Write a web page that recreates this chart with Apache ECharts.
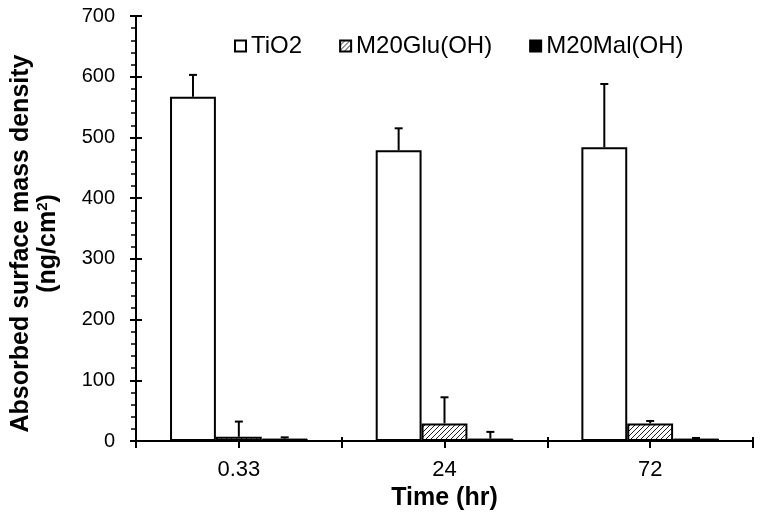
<!DOCTYPE html>
<html>
<head>
<meta charset="utf-8">
<script src="https://cdn.jsdelivr.net/npm/echarts@6/dist/echarts.min.js"></script>
<style>html,body{margin:0;padding:0;background:#fff;}#c{width:764px;height:523px;}</style>
</head>
<body>
<div id="c"></div>
<script>
const categories = ['0.33', '24', '72'];
const seriesNames = ['TiO2', 'M20Glu(OH)', 'M20Mal(OH)'];
const tio2 = [567, 479, 484];
const tio2Err = [36, 36, 104];
const glu = [7, 29, 29];
const gluErr = [25, 43, 4];
const mal = [4, 4, 4];
const malErr = [2, 11, 1];
const yTicks = [0, 100, 200, 300, 400, 500, 600, 700];

const FONT = 'Liberation Sans, Arial, sans-serif';
const BAR_FRAC = 0.223;

function hatch() {
  const s = 5, c = document.createElement('canvas');
  c.width = s; c.height = s;
  const g = c.getContext('2d');
  g.fillStyle = '#fff'; g.fillRect(0, 0, s, s);
  g.strokeStyle = '#222'; g.lineWidth = 1;
  g.beginPath();
  g.moveTo(-1, s + 1); g.lineTo(s + 1, -1);
  g.moveTo(-1, 1); g.lineTo(1, -1);
  g.moveTo(s - 1, s + 1); g.lineTo(s + 1, s - 1);
  g.stroke();
  return c;
}

const chart = echarts.init(document.getElementById('c'), null, {renderer: 'canvas'});

function errSeries(vals, errs, offset) {
  return {
    type: 'custom',
    xAxisIndex: 0, yAxisIndex: 0,
    z: 5,
    data: vals.map((v, i) => [i, v, errs[i]]),
    encode: {x: 0, y: 1},
    renderItem: function (params, api) {
      const ci = api.value(0), v = api.value(1), e = api.value(2);
      const b = api.coord([ci, v]);
      const t = api.coord([ci, v + e]);
      const band = api.size([1, 0])[0];
      const x = b[0] + offset * band * BAR_FRAC;
      const st = {stroke: '#000', lineWidth: 2};
      return {
        type: 'group',
        children: [
          {type: 'line', shape: {x1: x, y1: b[1], x2: x, y2: t[1]}, style: st},
          {type: 'line', shape: {x1: x - 4, y1: t[1], x2: x + 4, y2: t[1]}, style: st}
        ]
      };
    },
    silent: true
  };
}

const yBase = {type: 'value', position: 'left', min: yTicks[0], max: yTicks[yTicks.length - 1], interval: 100};
const xBase = {type: 'category', data: categories, position: 'bottom', boundaryGap: true};

chart.setOption({
  animation: false,
  backgroundColor: '#fff',
  textStyle: {fontFamily: FONT, color: '#000'},
  legend: {
    data: seriesNames,
    left: 229, top: 29,
    itemWidth: 11, itemHeight: 11, itemGap: 37,
    icon: 'rect',
    textStyle: {fontSize: 24, fontFamily: FONT, color: '#000'}
  },
  grid: {left: 133, right: 11, top: 16, bottom: 82},
  xAxis: [
    Object.assign({}, xBase, {
      name: 'Time (hr)', nameLocation: 'middle', nameGap: 40,
      nameTextStyle: {fontSize: 25, fontWeight: 'bold', fontFamily: FONT, color: '#000'},
      axisLine: {show: true, lineStyle: {color: '#000', width: 2}},
      axisTick: {show: true, interval: 0, length: 7, lineStyle: {color: '#000', width: 2}},
      axisLabel: {fontSize: 22, color: '#000', margin: 18, fontFamily: FONT},
      splitLine: {show: false}
    }),
    Object.assign({}, xBase, {
      axisLine: {show: false},
      axisTick: {show: true, interval: 0, alignWithLabel: true, length: 7, lineStyle: {color: '#000', width: 2}},
      axisLabel: {show: false}, splitLine: {show: false}
    }),
    Object.assign({}, xBase, {
      axisLine: {show: false},
      axisTick: {show: true, interval: 0, inside: true, length: 4, lineStyle: {color: '#000', width: 2}},
      axisLabel: {show: false}, splitLine: {show: false}
    }),
    Object.assign({}, xBase, {
      axisLine: {show: false},
      axisTick: {show: true, interval: 0, alignWithLabel: true, inside: true, length: 4, lineStyle: {color: '#000', width: 2}},
      axisLabel: {show: false}, splitLine: {show: false}
    })
  ],
  yAxis: [
    Object.assign({}, yBase, {
      name: 'Absorbed surface mass density\n(ng/cm{sup|2})',
      nameLocation: 'middle', nameGap: 74, nameRotate: 90,
      nameTextStyle: {
        fontSize: 25, fontWeight: 'bold', fontFamily: FONT, color: '#000', lineHeight: 27,
        padding: [0, 30, 0, 0],
        rich: {sup: {fontSize: 15, fontWeight: 'bold', verticalAlign: 'top', lineHeight: 16, padding: [0, 0, 10, 0]}}
      },
      axisLine: {show: true, lineStyle: {color: '#000', width: 2}},
      axisTick: {show: true, length: 6, lineStyle: {color: '#000', width: 2}},
      minorTick: {show: true, splitNumber: 5, length: 5, lineStyle: {color: '#000', width: 1.5}},
      axisLabel: {fontSize: 20, color: '#000', margin: 21, fontFamily: FONT},
      splitLine: {show: false}, minorSplitLine: {show: false}
    }),
    Object.assign({}, yBase, {
      axisLine: {show: false},
      axisTick: {show: true, inside: true, length: 6, lineStyle: {color: '#000', width: 2}},
      axisLabel: {show: false}, splitLine: {show: false}
    })
  ],
  series: [
    {name: seriesNames[0], type: 'bar', data: tio2, barWidth: (BAR_FRAC * 100) + '%', barGap: '0%',
      itemStyle: {color: '#fff', borderColor: '#000', borderWidth: 2}},
    {name: seriesNames[1], type: 'bar', data: glu, barWidth: (BAR_FRAC * 100) + '%', barGap: '0%',
      itemStyle: {color: {image: hatch(), repeat: 'repeat'}, borderColor: '#000', borderWidth: 2}},
    {name: seriesNames[2], type: 'bar', data: mal, barWidth: (BAR_FRAC * 100) + '%', barGap: '0%',
      itemStyle: {color: '#000', borderColor: '#000', borderWidth: 1}},
    errSeries(tio2, tio2Err, -1),
    errSeries(glu, gluErr, 0),
    errSeries(mal, malErr, 1)
  ]
});
</script>
</body>
</html>
